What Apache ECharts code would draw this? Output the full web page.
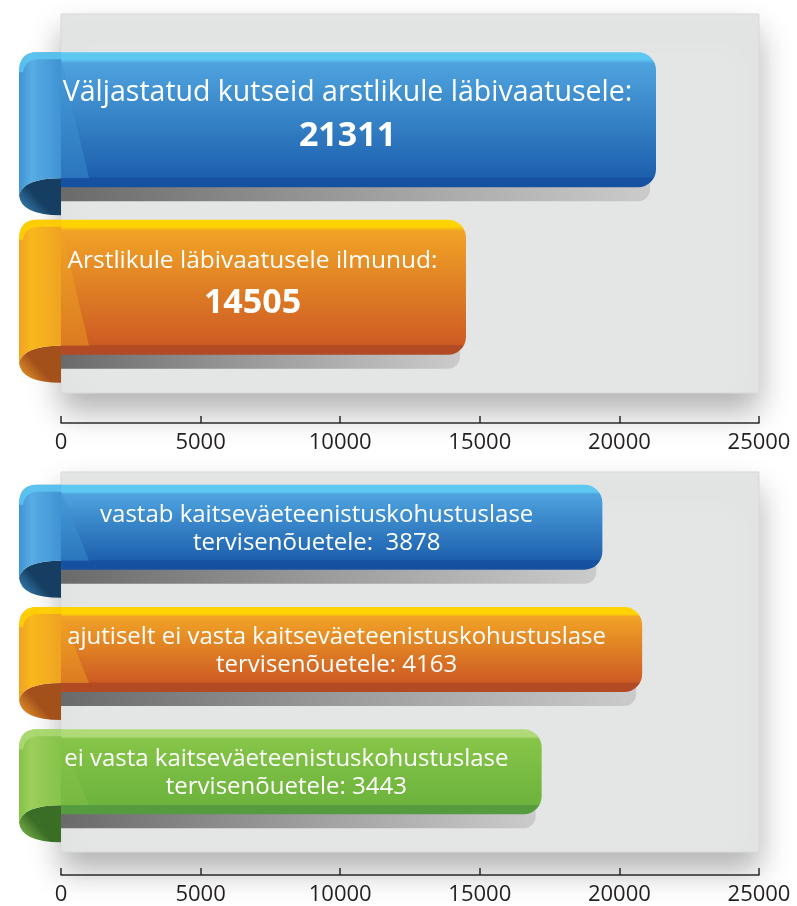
<!DOCTYPE html>
<html>
<head>
<meta charset="utf-8">
<script src="https://cdn.jsdelivr.net/npm/echarts@6/dist/echarts.min.js"></script>
<style>
html,body{margin:0;padding:0;background:#ffffff;}
#chart{width:797px;height:906px;}
</style>
</head>
<body>
<div id="chart"></div>
<script>
// ---- data ----
const topCategories = ['Väljastatud kutseid arstlikule läbivaatusele:', 'Arstlikule läbivaatusele ilmunud:'];
const topValues = [21311, 14505];
const bottomLine1 = ['vastab kaitseväeteenistuskohustuslase', 'ajutiselt ei vasta kaitseväeteenistuskohustuslase', 'ei vasta kaitseväeteenistuskohustuslase'];
const bottomLine2Prefix = ['tervisenõuetele:  ', 'tervisenõuetele: ', 'tervisenõuetele: '];
const bottomValues = [3878, 4163, 3443];
const axisTicks = [0, 5000, 10000, 15000, 20000, 25000];

// ---- styling ----
const FONT = '"Open Sans", "Noto Sans", sans-serif';
const palettes = {
  blue:   {hl:'#5ec8f3', top:'#4ea3de', bot:'#1d60ae', strip:'#1650a0', fold:'#58ace4', foldB:'#3f93d3', inTop:'#163e62', inBot:'#3d92c8'},
  orange: {hl:'#ffd400', top:'#f1a326', bot:'#cd5b23', strip:'#b24a24', fold:'#f9b81c', foldB:'#efa322', inTop:'#a4501b', inBot:'#f4a82a'},
  green:  {hl:'#b0da78', top:'#86c548', bot:'#6db33d', strip:'#559c3e', fold:'#9bcf5a', foldB:'#86c249', inTop:'#3a6e27', inBot:'#8cc850'}
};
const topPal = ['blue', 'orange'];
const botPal = ['blue', 'orange', 'green'];

function lin(x, y, x2, y2, stops) {
  return {type:'linear', x:x, y:y, x2:x2, y2:y2, colorStops: stops.map(s => ({offset:s[0], color:s[1]}))};
}

function ribbon(x0, x1, yT, fh, pal) {
  const cd = 28;
  const yB = yT + fh;
  const L = x0 - 42;
  const c = palettes[pal];
  const hlFrac = 7 / fh, stripFrac = 1 - 9 / fh;
  return [
    // shadow strip under the ribbon
    {type:'rect', shape:{x:x0, y:yB - 4, width:Math.max(0, x1 - x0 - 6), height:18, r:[0,0,12,0]},
     style:{fill: lin(0,0,1,0,[[0,'#6a6a6a'],[0.5,'#9c9c9c'],[1,'#cbcbcb']])}},
    // inside of the curl
    {type:'path', shape:{pathData:
      'M' + x0 + ' ' + (yB - 9) +
      ' Q' + (L + 4) + ' ' + (yB - 9) + ' ' + L + ' ' + (yB + 8) +
      ' Q' + (L + 2) + ' ' + (yB + cd) + ' ' + x0 + ' ' + (yB + cd) + ' Z'},
     style:{fill: lin(1,0,0,1,[[0,c.inTop],[0.55,c.inTop],[1,c.inBot]])}},
    // face
    {type:'rect', shape:{x:x0, y:yT, width:x1 - x0, height:fh, r:[0,18,18,0]},
     style:{fill: lin(0,0,0,1,[[0,c.hl],[hlFrac,c.hl],[hlFrac + 0.03,c.top],[stripFrac - 0.01,c.bot],[stripFrac,c.strip],[1,c.strip]])}},
    // fold highlight triangle
    {type:'polygon', shape:{points:[[x0, yT + 6],[x0 + 28, yB - 9],[x0, yB - 9]]},
     style:{fill:c.foldB, opacity:0.45}},
    // front of the curl
    {type:'path', shape:{pathData:
      'M' + x0 + ' ' + yT +
      ' L' + (L + 18) + ' ' + yT +
      ' Q' + L + ' ' + yT + ' ' + L + ' ' + (yT + 20) +
      ' L' + L + ' ' + (yB + 8) +
      ' Q' + (L + 4) + ' ' + (yB - 9) + ' ' + x0 + ' ' + (yB - 9) + ' Z'},
     style:{fill: lin(0,0,1,0,[[0,c.foldB],[0.3,c.fold],[1,c.foldB]])}},
    // top highlight of the curl
    {type:'path', shape:{pathData:
      'M' + x0 + ' ' + yT +
      ' L' + (L + 18) + ' ' + yT +
      ' Q' + L + ' ' + yT + ' ' + L + ' ' + (yT + 20) +
      ' L' + (L + 4) + ' ' + (yT + 20) +
      ' Q' + (L + 6) + ' ' + (yT + 7) + ' ' + (L + 20) + ' ' + (yT + 7) +
      ' L' + x0 + ' ' + (yT + 7) + ' Z'},
     style:{fill:c.hl, opacity:0.8}}
  ];
}

function textEl(txt, x, y, size, weight) {
  return {type:'text', style:{text:txt, x:x, y:y, align:'center', verticalAlign:'middle',
    fill:'#ffffff', fontSize:size, fontWeight:weight, fontFamily:FONT}};
}

function renderTop(params, api) {
  const idx = api.value(1);
  const p0 = api.coord([0, idx]);
  const p1 = api.coord([api.value(0), idx]);
  const H = 163, fh = 135;
  const yT = p0[1] - H / 2;
  const x0 = p0[0], x1 = p1[0];
  const cx = (x0 - 42 + x1) / 2 + 10;
  const children = ribbon(x0, x1, yT, fh, topPal[idx]);
  children.push(textEl(topCategories[idx], cx, yT + 41, idx === 0 ? 28.5 : 24.5, 'normal'));
  children.push(textEl(String(topValues[idx]), cx, yT + 84, 34, 'bold'));
  return {type:'group', children:children};
}

function renderBottom(params, api) {
  const idx = api.value(1);
  const p0 = api.coord([0, idx]);
  const p1 = api.coord([api.value(0), idx]);
  const H = 113, fh = 85;
  const yT = p0[1] - H / 2;
  const x0 = p0[0], x1 = p1[0];
  const cx = (x0 - 42 + x1) / 2 + 6;
  const children = ribbon(x0, x1, yT, fh, botPal[idx]);
  children.push(textEl(bottomLine1[idx], cx, yT + 30, 24, 'normal'));
  children.push(textEl(bottomLine2Prefix[idx] + bottomValues[idx], cx, yT + 58, 24, 'normal'));
  return {type:'group', children:children};
}

const boxGrid = {
  show:true, backgroundColor:'#e4e5e5', borderColor:'#d8d9d9', borderWidth:1,
  shadowColor:'rgba(0,0,0,0.3)', shadowBlur:30, shadowOffsetY:18
};
const hiddenX = (g, max) => ({gridIndex:g, type:'value', min:0, max:max, show:false});
const hiddenY = (g) => ({gridIndex:g, type:'value', min:0, max:1, show:false});
const visibleAxis = (g) => ({
  gridIndex:g,
  type:'value', min:axisTicks[0], max:axisTicks[axisTicks.length - 1], interval:axisTicks[1] - axisTicks[0],
  position:'bottom',
  axisLine:{show:true, lineStyle:{color:'#2b2b2b', width:1.5}},
  axisTick:{show:true, inside:true, length:7, lineStyle:{color:'#2b2b2b', width:1.5}},
  axisLabel:{show:true, margin:9, color:'#231f20', fontSize:22, fontFamily:FONT,
    formatter: v => String(v)},
  splitLine:{show:false}
});

const option = {
  animation:false,
  backgroundColor:'#ffffff',
  grid:[
    Object.assign({left:61, right:38, top:14, height:379}, boxGrid),   // 0 top box
    {left:61, right:38, top:50, height:335},                          // 1 top bars
    {left:61, right:38, top:14, height:409},                          // 2 top axis
    Object.assign({left:61, right:38, top:472, height:380}, boxGrid),  // 3 bottom box
    {left:61, right:38, top:480, height:367},                         // 4 bottom bars
    {left:61, right:38, top:472, height:410}                          // 5 bottom axis
  ],
  xAxis:[
    hiddenX(0, 25000),
    hiddenX(1, 25000),
    visibleAxis(2),
    hiddenX(3, 25000),
    hiddenX(4, 5000),
    visibleAxis(5)
  ],
  yAxis:[
    hiddenY(0),
    {gridIndex:1, type:'category', data:topCategories, inverse:true, show:false},
    hiddenY(2),
    hiddenY(3),
    {gridIndex:4, type:'category', data:bottomLine1, inverse:true, show:false},
    hiddenY(5)
  ],
  series:[
    {type:'custom', xAxisIndex:1, yAxisIndex:1, clip:false, renderItem:renderTop,
     encode:{x:0, y:1}, data:topValues.map((v, i) => [v, i])},
    {type:'custom', xAxisIndex:4, yAxisIndex:4, clip:false, renderItem:renderBottom,
     encode:{x:0, y:1}, data:bottomValues.map((v, i) => [v, i])}
  ]
};

const chart = echarts.init(document.getElementById('chart'), null, {renderer:'canvas'});
chart.setOption(option);
</script>
</body>
</html>
